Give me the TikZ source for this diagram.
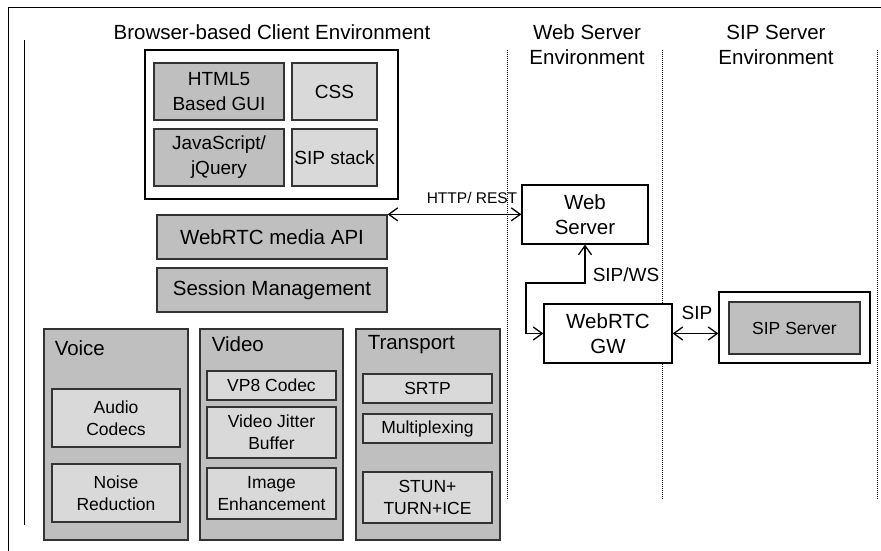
\documentclass[tikz,border=0pt]{standalone}
\usepackage{fontspec}
\setmainfont{Liberation Sans}
\usetikzlibrary{arrows.meta,calc,positioning}
\newcommand\fsbig{\fontsize{20.5}{25}\selectfont}
\newcommand\fsmid{\fontsize{19}{25}\selectfont}
\newcommand\fsfine{\fontsize{17.5}{22}\selectfont}

\begin{document}
\begin{tikzpicture}[x=1pt,y=-1pt,thick]
\tikzset{box/.style={draw=black!80,line width=1.3pt,align=center,inner sep=0pt,font=\fsbig},
  dark/.style={box,fill=shade}, light/.style={box,fill=tint},
  plain/.style={box,draw=black,fill=white}, fine/.style={font=\fsfine},
  wh/.style 2 args={minimum width=#1,minimum height=#2},
  tag/.style={align=center,inner sep=0pt,font=\fsbig},
  zone/.style={densely dotted,line width=1pt},
  link/.style={{Straight Barb[length=9pt,width=13pt]}-{Straight Barb[length=9pt,width=13pt]},line width=1.3pt}}
\colorlet{shade}{black!25} \colorlet{tint}{black!15}

\useasboundingbox (0,0) rectangle (881,551);
\draw[line width=1pt] (881,8) -- (8,8) -- (8,551);
\draw[line width=1pt] (24,40) -- (24,525);
\foreach \x in {507,662,877} \draw[zone] (\x,50) -- (\x,500);

% browser side
\node[tag] (clienttitle) at (272,32) {Browser-based Client Environment};
\node[plain,wh={253}{149}] (client) at (271.5,124.5) {};
\node[dark,font=\fsmid,wh={130}{57}] (html) at (219,91.5) {HTML5\\Based GUI};
\node[light,font=\fsmid,wh={85}{57}] (css) at (334.5,91.5) {CSS};
\node[dark,font=\fsmid,wh={130}{57}] (js) at (219,157.5) {JavaScript/\\jQuery};
\node[light,font=\fsmid,wh={85}{57}] (sipstack) at (334.5,157.5) {SIP stack};
\node[dark,wh={230}{44}] (api) at (272,237) {WebRTC media API};
\node[dark,wh={230}{44}] (session) at (272,290) {Session Management};

\node[dark,wh={144}{211}] (voice) at (116,434.5) {};
\node[dark,wh={143}{211}] (video) at (271.5,434.5) {};
\node[dark,wh={144}{211}] (transport) at (428,434.5) {};
\node[tag,anchor=west] (voicetag) at ($(voice.north west)+(11,20)$) {Voice};
\node[tag,anchor=west] (videotag) at ($(video.north west)+(12,16)$) {Video};
\node[tag,anchor=west] (transporttag) at ($(transport.north west)+(12,16)$) {Transport};

\node[light,fine,wh={128}{58}] (audio) at (116,418) {Audio\\Codecs};
\node[light,fine,wh={128}{58}] (noise) at (116,493) {Noise\\Reduction};
\node[light,fine,wh={129}{29}] (vp8) at (271.5,385.5) {VP8 Codec};
\node[light,fine,wh={129}{51}] (jitter) at (271.5,432.5) {Video Jitter\\Buffer};
\node[light,fine,wh={129}{51}] (enhance) at (271.5,493.5) {Image\\Enhancement};
\node[light,fine,wh={129}{29}] (srtp) at (427.5,388.5) {SRTP};
\node[light,fine,wh={129}{29}] (mux) at (427.5,428.5) {Multiplexing};
\node[light,fine,wh={129}{51}] (stun) at (427.5,497.5) {STUN+\\TURN+ICE};

% servers
\node[tag] (webtitle) at (587,45) {Web Server\\Environment};
\node[tag] (siptitle) at (776,45) {SIP Server\\Environment};
\node[plain,wh={126}{59}] (webserver) at (585,214.5) {Web\\Server};
\node[plain,wh={128}{59}] (gw) at (608,333.5) {WebRTC\\GW};
\node[plain,wh={151}{71}] (sipbox) at (794.5,327.5) {};
\node[dark,fine,wh={131}{52}] (sipserver) at (794.5,328) {SIP Server};

\draw[link] (api.north east) -- (api.north east -| webserver.west);
\node[tag,font=\fontsize{15.5}{20}\selectfont] (http) at (472,198) {HTTP/ REST};
\coordinate (bend) at (526,283);
\draw[link] (webserver.south) |- (bend) |- (gw.west);
\node[tag,font=\fontsize{19}{22}\selectfont] (sipws) at (626,275) {SIP/WS};
\draw[link] (gw.east) -- (gw.east -| sipbox.west);
\node[tag,font=\fontsize{19}{22}\selectfont] (sip) at (697,313) {SIP};
\end{tikzpicture}
\end{document}
